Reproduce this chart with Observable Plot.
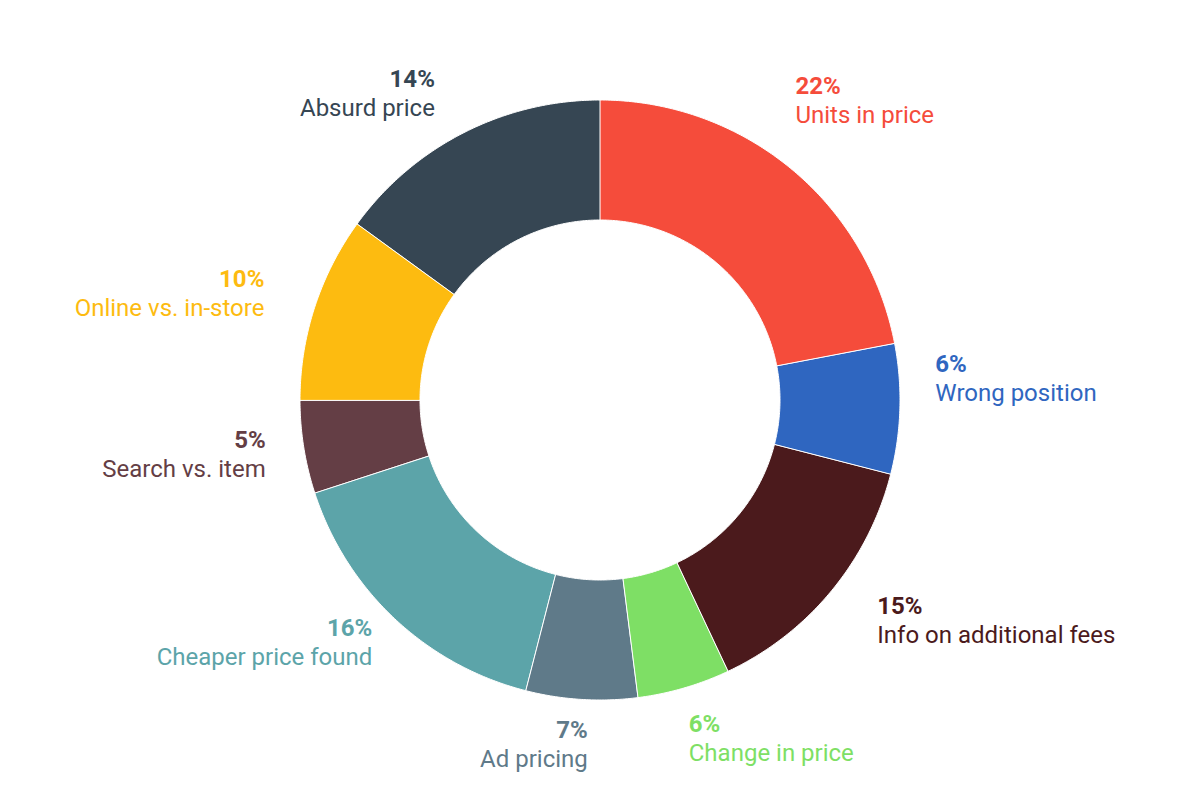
<!DOCTYPE html>
<html>
<head>
<meta charset="utf-8">
<script src="https://cdn.jsdelivr.net/npm/d3@7"></script>
<script src="https://cdn.jsdelivr.net/npm/@observablehq/plot@0.6"></script>
<style>
  html, body { margin: 0; padding: 0; background: #ffffff; }
  #chart { width: 1198px; height: 800px; }
</style>
</head>
<body>
<div id="chart"></div>
<script>
// ---- data ----
const categories = ["Units in price", "Wrong position", "Info on additional fees", "Change in price", "Ad pricing", "Cheaper price found", "Search vs. item", "Online vs. in-store", "Absurd price"];
// share of the ring each slice occupies (measured from the arcs)
const shares = [22, 7, 14, 5, 6, 16, 5, 10, 15];
// percentage text printed next to each slice
const pctLabels = ["22%", "6%", "15%", "6%", "7%", "16%", "5%", "10%", "14%"];
const colors = ["#f54c3b", "#2f66c0", "#4b1a1c", "#7edf65", "#5f7a89", "#5ca4a9", "#643e45", "#fdbb10", "#364653"];

// ---- layout ----
const W = 1198, H = 800;
const R_OUT = 300, R_IN = 180, R_LABEL = 345;
const LINE_GAP = 14.5;
const FONT = 24;
// small label offsets (dx, dy) away from the default mid-angle position
const labelNudge = {
  "Units in price": [-25, -34], "Wrong position": [-10, -33], "Info on additional fees": [11, 0],
  "Change in price": [-8, 7], "Ad pricing": [9, 0], "Cheaper price found": [8, -9],
  "Search vs. item": [6, 0], "Online vs. in-store": [-8, 0], "Absurd price": [-9, 0]
};

const total = d3.sum(shares);
let acc = 0;
const slices = categories.map((c, i) => {
  const a0 = acc / total * 2 * Math.PI;
  acc += shares[i];
  const a1 = acc / total * 2 * Math.PI;
  return {cat: c, a0, a1, pct: pctLabels[i], color: colors[i]};
});

// ring outline points for each slice
const ring = [];
for (const s of slices) {
  const n = Math.max(2, Math.ceil((s.a1 - s.a0) / (Math.PI / 360)));
  for (let k = 0; k <= n; k++) {
    const a = s.a0 + (s.a1 - s.a0) * k / n;
    ring.push({
      cat: s.cat,
      x1: R_OUT * Math.sin(a), y1: -R_OUT * Math.cos(a),
      x2: R_IN * Math.sin(a), y2: -R_IN * Math.cos(a)
    });
  }
}

const labels = slices.map(s => {
  const m = (s.a0 + s.a1) / 2;
  const nd = labelNudge[s.cat] || [0, 0];
  return {
    cat: s.cat, pct: s.pct,
    x: R_LABEL * Math.sin(m) + nd[0],
    y: -R_LABEL * Math.cos(m) + 8 + nd[1],
    right: Math.sin(m) >= 0
  };
});
const rightLabels = labels.filter(d => d.right);
const leftLabels = labels.filter(d => !d.right);

const textMarks = [];
for (const [set, anchor] of [[rightLabels, "start"], [leftLabels, "end"]]) {
  textMarks.push(Plot.text(set, {x: "x", y: "y", text: "pct", fill: "cat", textAnchor: anchor, lineAnchor: "bottom", dy: -LINE_GAP, fontSize: FONT, fontWeight: "bold"}));
  textMarks.push(Plot.text(set, {x: "x", y: "y", text: "cat", fill: "cat", textAnchor: anchor, lineAnchor: "bottom", dy: LINE_GAP, fontSize: FONT}));
}

const chart = Plot.plot({
  width: W, height: H, margin: 0,
  x: {domain: [-600, 598], range: [0, W], axis: null},
  y: {domain: [-400, 400], range: [0, H], axis: null},
  color: {domain: categories, range: colors},
  style: {fontFamily: "Roboto, sans-serif", background: "#ffffff"},
  marks: [
    Plot.area(ring, {x1: "x1", y1: "y1", x2: "x2", y2: "y2", z: "cat", fill: "cat", stroke: "#ffffff", strokeWidth: 1, curve: "linear"}),
    ...textMarks
  ]
});
document.getElementById("chart").appendChild(chart);
</script>
</body>
</html>
